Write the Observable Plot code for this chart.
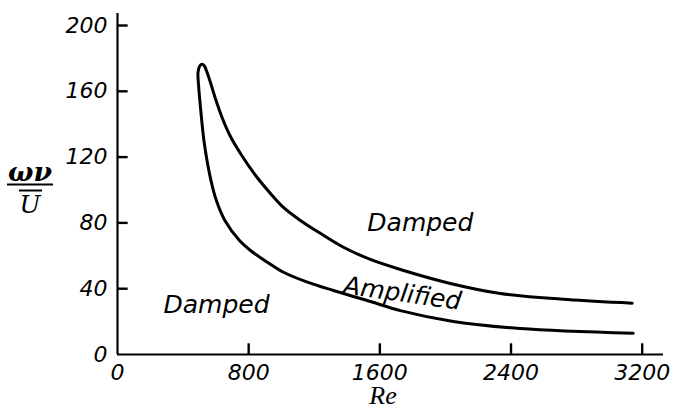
<!DOCTYPE html>
<html><head><meta charset="utf-8">
<script src="https://cdn.jsdelivr.net/npm/d3@7"></script>
<script src="https://cdn.jsdelivr.net/npm/@observablehq/plot@0.6"></script>
<style>
body{margin:0;background:#fff;}
#chart{width:676px;height:409px;}
</style></head><body><div id="chart"></div>
<script>
// Neutral-stability curve: lower branch (right to left), tip, upper branch (left to right)
const lowerRe = [3145, 2456, 2048, 1725, 1542, 1317, 1158, 1012, 914, 811, 744, 655, 603, 570, 546, 527, 515, 505, 496, 491, 500];
const lowerW  = [12.9, 15.8, 20.1, 26.7, 32.2, 38.9, 44.0, 50.0, 56.1, 63.2, 69.3, 81.5, 93.6, 105.8, 117.9, 130.1, 141.0, 151.4, 161.7, 171.4, 175.1];
const tipRe = [515];
const tipW  = [176.4];
const upperRe = [530, 542, 567, 597, 640, 689, 750, 847, 933, 1012, 1115, 1219, 1378, 1542, 1725, 2030, 2335, 2743, 3139];
const upperW  = [175.4, 172.6, 165.3, 155.6, 143.5, 132.5, 122.2, 108.2, 97.9, 89.4, 81.5, 74.8, 65.2, 57.8, 51.7, 43.2, 37.1, 33.4, 31.2];

const xTicks = [0, 800, 1600, 2400, 3200];
const yTicks = [0, 40, 80, 120, 160, 200];

const regionLabels = ["Damped", "Amplified", "Damped"];
const regionRe = [1847, 1737, 604];
const regionW  = [80.2, 37.0, 30.0];
const regionRot = [0, 8, 0];

const curve = [
  ...lowerRe.map((x, i) => ({x, y: lowerW[i]})),
  ...tipRe.map((x, i) => ({x, y: tipW[i]})),
  ...upperRe.map((x, i) => ({x, y: upperW[i]}))
];
const labels = regionLabels.map((t, i) => ({t, x: regionRe[i], y: regionW[i], r: regionRot[i]}));

const xMax = 3330, yMax = 207.3;
const font = "'DejaVu Sans', sans-serif";

const svg = Plot.plot({
  width: 676,
  height: 409,
  marginLeft: 117,
  marginRight: 13,
  marginTop: 13,
  marginBottom: 55,
  style: {fontFamily: font, fontStyle: "italic", background: "#fff", color: "#000"},
  x: {domain: [0, xMax]},
  y: {domain: [0, yMax]},
  marks: [
    Plot.axisX({ticks: xTicks, tickSize: 0, tickPadding: 10, tickFormat: d => String(d), fontSize: 22, label: null}),
    Plot.axisY({ticks: yTicks, tickSize: 0, tickPadding: 10, tickFormat: d => String(d), fontSize: 22, label: null}),
    Plot.ruleX([0], {y1: 0, y2: yMax, stroke: "#000", strokeWidth: 2.2}),
    Plot.ruleY([0], {x1: 0, x2: xMax, stroke: "#000", strokeWidth: 2.2}),
    // inward tick marks (about 10 px long)
    Plot.ruleX(xTicks.slice(1), {y1: 0, y2: 6.5, stroke: "#000", strokeWidth: 2.4}),
    Plot.ruleY(yTicks.slice(1), {x1: 0, x2: 65, stroke: "#000", strokeWidth: 2.4}),
    Plot.line(curve, {x: "x", y: "y", curve: "catmull-rom", stroke: "#000", strokeWidth: 3}),
    Plot.text(labels, {x: "x", y: "y", text: "t", rotate: "r", fontSize: 25, fill: "#000"})
  ]
});

const s = d3.select(svg);
const g = s.append("g").attr("fill", "#000");
g.append("text").text("ων").attr("x", 30).attr("y", 181)
  .attr("text-anchor", "middle").attr("font-family", "'DejaVu Serif', serif")
  .attr("font-style", "italic").attr("font-weight", "bold").attr("font-size", 26)
  .attr("textLength", 44).attr("lengthAdjust", "spacingAndGlyphs");
g.append("line").attr("x1", 7).attr("x2", 53).attr("y1", 184.5).attr("y2", 184.5)
  .attr("stroke", "#000").attr("stroke-width", 2);
g.append("line").attr("x1", 19).attr("x2", 42).attr("y1", 190.5).attr("y2", 190.5)
  .attr("stroke", "#000").attr("stroke-width", 2);
g.append("text").text("U").attr("x", 30).attr("y", 213)
  .attr("text-anchor", "middle").attr("font-family", "'DejaVu Serif', serif")
  .attr("font-style", "italic").attr("font-size", 25);
g.append("text").text("Re").attr("x", 383).attr("y", 404)
  .attr("text-anchor", "middle").attr("font-family", "'Liberation Serif', serif")
  .attr("font-style", "italic").attr("font-size", 26);

document.getElementById("chart").appendChild(svg);
</script></body></html>
